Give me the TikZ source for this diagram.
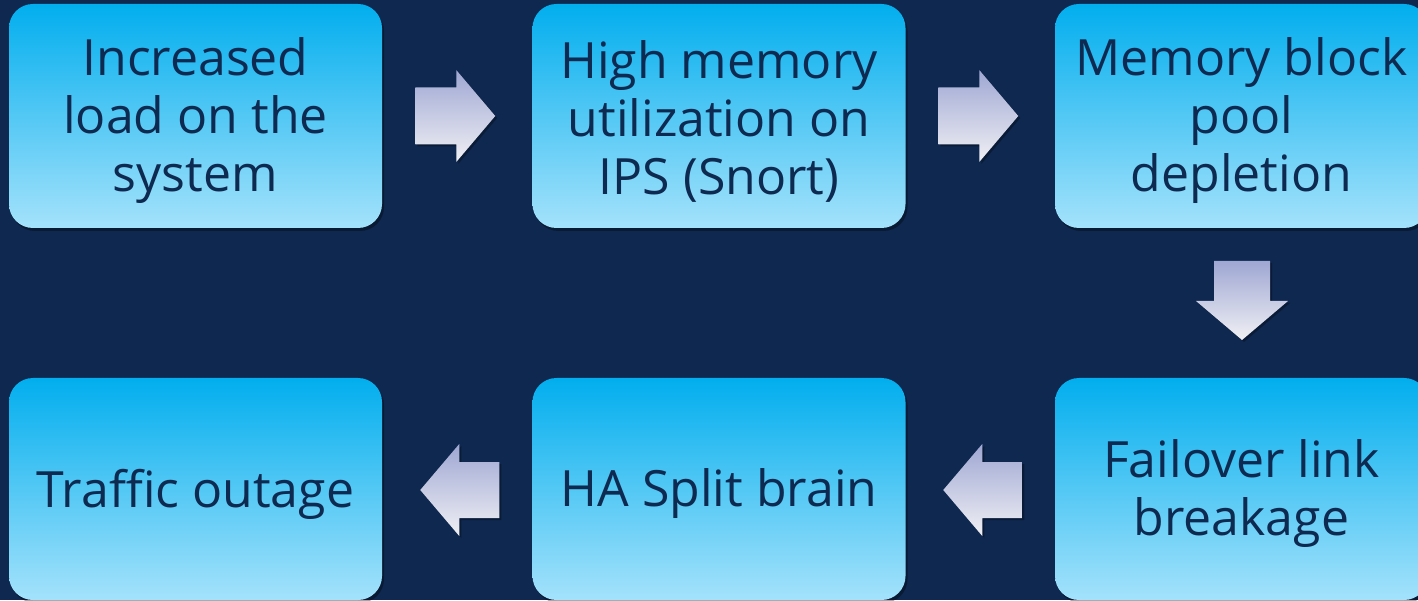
\documentclass[tikz,border=0pt]{standalone}
\usepackage{fontspec}
\setmainfont{Open Sans}
\usetikzlibrary{calc,shadows}
\definecolor{bgnavy}{HTML}{0F2850}
\definecolor{boxtop}{HTML}{02AEEE}
\definecolor{boxbottom}{HTML}{A4E2FB}
\definecolor{textnavy}{HTML}{0E2A50}
\definecolor{arrowtop}{HTML}{9FA7D3}
\definecolor{arrowbottom}{HTML}{F0F0F4}
\tikzset{
  stepbox/.style={rectangle, rounded corners=24pt, minimum width=373pt,
    top color=boxtop, bottom color=boxbottom, draw=none,
    drop shadow={shadow xshift=2pt, shadow yshift=-3pt, opacity=0.35, fill=black}},
  toprow/.style={stepbox, minimum height=224pt},
  botrow/.style={stepbox, minimum height=222pt},
  steptext/.style={text=textnavy, align=center, inner sep=0pt,
    font=\fontsize{50pt}{58pt}\selectfont},
  blockarrow/.style={top color=arrowtop, bottom color=arrowbottom, draw=none,
    drop shadow={shadow xshift=2pt, shadow yshift=-2pt, opacity=0.3, fill=black}},
}
\begin{document}
\begin{tikzpicture}[x=1pt, y=1pt]
  \fill[bgnavy] (0,0) rectangle (1418,600);
  \useasboundingbox (0,0) rectangle (1418,600);
  \clip (0,0) rectangle (1418,600);

  % top row: cause chain left to right
  \node[toprow] (load)  at (195.5,484) {};
  \node[toprow] (mem)   at (719,484)   {};
  \node[toprow] (pool)  at (1241.5,484) {};
  \node[steptext] (load-t) at ($(load.center)+(0,-5)$) {Increased\\load on the\\system};
  \node[steptext] (mem-t)  at ($(mem.center)+(0,-5)$)  {High memory\\utilization on\\IPS (Snort)};
  \node[steptext] (pool-t) at ($(pool.center)+(0,-5)$) {Memory block\\pool\\depletion};

  % bottom row: consequences right to left
  \node[botrow] (link)    at (1241.5,111) {};
  \node[botrow] (split)   at (719,111)    {};
  \node[botrow] (outage)  at (195.5,111)  {};
  \node[steptext] (link-t)   at ($(link.center)+(0,-5)$)   {Failover link\\breakage};
  \node[steptext] (split-t)  at ($(split.center)+(0,-5)$)  {HA Split brain};
  \node[steptext] (outage-t) at ($(outage.center)+(0,-5)$) {Traffic outage};

  % anchor points for the block arrows between the boxes
  \coordinate (a1) at ($(load.east)!0.5!(mem.west) + (-2,0)$);
  \coordinate (a2) at ($(mem.east)!0.5!(pool.west) + (-2,0)$);
  \coordinate (a3) at ($(pool.south)!0.5!(link.north) + (0.5,2.5)$);
  \coordinate (a4) at ($(split.east)!0.5!(link.west) + (2.5,-1)$);
  \coordinate (a5) at ($(outage.east)!0.5!(split.west) + (2.5,-1)$);

  % right-pointing arrows
  \foreach \c in {a1,a2} {
    \shade[blockarrow] ($(\c)+(-40,28.5)$) -- ++(41,0) -- ++(0,17.5)
      -- ($(\c)+(40,0)$) -- ($(\c)+(1,-46)$) -- ++(0,17.5) -- ($(\c)+(-40,-28.5)$) -- cycle;
  }
  % downward arrow
  \shade[blockarrow] ($(a3)+(-28,39.5)$) -- ++(56,0) -- ++(0,-40)
    -- ++(18,0) -- ($(a3)+(0,-39.5)$) -- ($(a3)+(-46,-0.5)$) -- ++(18,0) -- cycle;
  % left-pointing arrows
  \foreach \c in {a4,a5} {
    \shade[blockarrow] ($(\c)+(39.5,28)$) -- ++(-40,0) -- ++(0,18)
      -- ($(\c)+(-39.5,0)$) -- ($(\c)+(-0.5,-46)$) -- ++(0,18) -- ($(\c)+(39.5,-28)$) -- cycle;
  }
\end{tikzpicture}
\end{document}
